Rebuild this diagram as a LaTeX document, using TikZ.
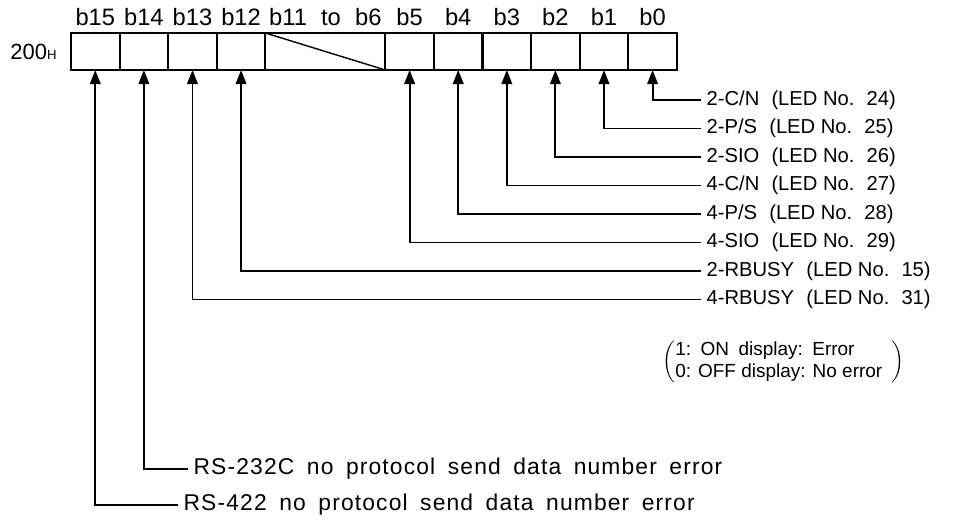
\documentclass[tikz,border=0pt]{standalone}
\usepackage{fontspec}
\setmainfont{Liberation Sans}
\newfontfamily\widefont[LetterSpace=5]{Liberation Sans}
\newcommand\rsfont{\fontsize{13}{15}\widefont\spaceskip=0.55em\relax}
\usepackage{tikz}
\usetikzlibrary{arrows.meta,positioning}

\tikzset{
  cell/.style={draw, line width=1.2pt, minimum width=0.972cm, minimum height=0.74cm,
    inner sep=0pt, outer sep=0pt},
  bitlbl/.style={font=\fontsize{13.5}{15}\selectfont, inner sep=1pt},
  lbl/.style={font=\fontsize{11.5}{14}\selectfont, anchor=west, inner sep=3pt},
  keylbl/.style={lbl, font=\fontsize{10.8}{12.5}\selectfont},
  rslbl/.style={lbl, font=\rsfont},
  sig/.style={line width=1.1pt, -{Triangle[length=8pt,width=6pt]}},
}

\begin{document}
\begin{tikzpicture}[x=0.02cm, y=-0.02cm]
    \useasboundingbox (0,0) rectangle (968,521);
    % register 200H
    \node[cell, anchor=north west] (b15) at (71,33) {};
    \node[cell, right=0pt of b15] (b14) {};
    \node[cell, right=0pt of b14] (b13) {};
    \node[cell, right=0pt of b13] (b12) {};
    \node[cell, right=0pt of b12, minimum width=2.4cm] (b11) {};
    \node[cell, right=0pt of b11] (b5) {};
    \node[cell, right=0pt of b5] (b4) {};
    \node[cell, right=0pt of b4] (b3) {};
    \node[cell, right=0pt of b3] (b2) {};
    \node[cell, right=0pt of b2] (b1) {};
    \node[cell, right=0pt of b1] (b0) {};
    \draw[line width=0.8pt] (b11.north west) -- (b11.south east);
    \node[bitlbl, left=7pt of b15, font=\fontsize{12.5}{14}\selectfont] (addr)
        {200{\fontsize{7.5}{9}\selectfont H}};
    % bit numbers
    \foreach \b in {15,14,13,12,5,4,3,2,1,0}
        \node[bitlbl, above=3pt of b\b] (t\b) {b\b};
    \node[bitlbl, above=3pt of b11] (t11) {b11\hspace{0.6em}to\hspace{0.6em}b6};
    % LED labels
    \node[lbl] (l0) at (701,100) {2-C/N\hspace{0.6em}(LED No.\hspace{0.6em}24)};
    \node[lbl] (l1) at (701,128.5) {2-P/S\hspace{0.6em}(LED No.\hspace{0.6em}25)};
    \node[lbl] (l2) at (701,157) {2-SIO\hspace{0.6em}(LED No.\hspace{0.6em}26)};
    \node[lbl] (l3) at (701,185.5) {4-C/N\hspace{0.6em}(LED No.\hspace{0.6em}27)};
    \node[lbl] (l4) at (701,214) {4-P/S\hspace{0.6em}(LED No.\hspace{0.6em}28)};
    \node[lbl] (l5) at (701,242.5) {4-SIO\hspace{0.6em}(LED No.\hspace{0.6em}29)};
    \node[lbl] (l12) at (701,271) {2-RBUSY\hspace{0.6em}(LED No.\hspace{0.6em}15)};
    \node[lbl] (l13) at (701,299.5) {4-RBUSY\hspace{0.6em}(LED No.\hspace{0.6em}31)};
    \foreach \b in {0,1,2,3,4,5,12,13}
        \draw[sig] (l\b.west) -| (b\b.south);
    % meaning of bits
    \node[keylbl, inner sep=0pt] (key) at (662,362)
        {$\left(\begin{tabular}{@{}l@{\hspace{5pt}}}
          1:\hspace{0.5em}ON\hspace{0.5em}display:\hspace{0.5em}Error\\
          0: OFF display: No error
        \end{tabular}\right)$};
    % RS error bits
    \node[rslbl] (l14) at (188,469) {RS-232C no protocol send data number error};
    \node[rslbl] (l15) at (178,505) {RS-422 no protocol send data number error};
    \draw[sig] (l14.west) -| (b14.south);
    \draw[sig] (l15.west) -| (b15.south);
\end{tikzpicture}
\end{document}
